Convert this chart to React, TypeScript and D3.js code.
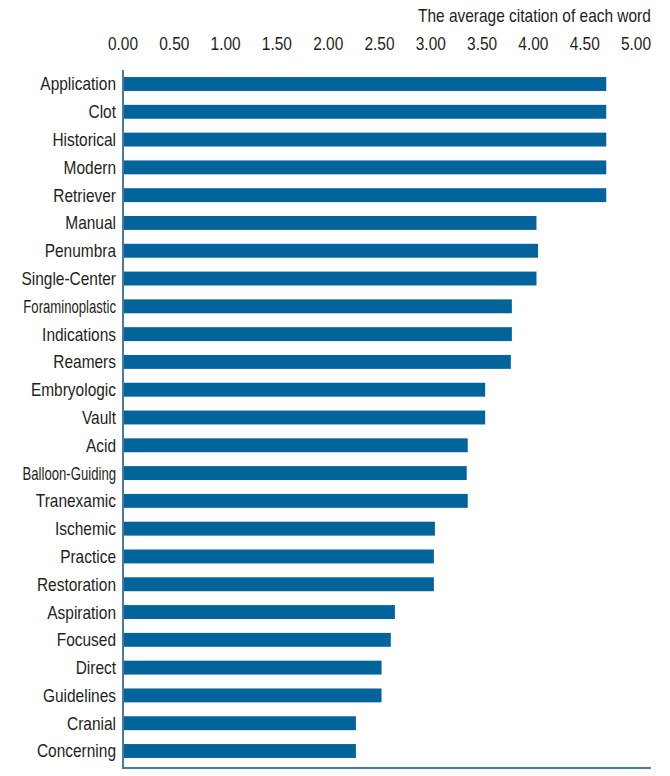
import React from "react";
import * as d3 from "d3";

const categories = [
  "Application", "Clot", "Historical", "Modern", "Retriever",
  "Manual", "Penumbra", "Single-Center", "Foraminoplastic", "Indications",
  "Reamers", "Embryologic", "Vault", "Acid", "Balloon-Guiding",
  "Tranexamic", "Ischemic", "Practice", "Restoration", "Aspiration",
  "Focused", "Direct", "Guidelines", "Cranial", "Concerning",
];
const values = [
  4.71, 4.71, 4.71, 4.71, 4.71,
  4.03, 4.045, 4.03, 3.79, 3.79,
  3.78, 3.53, 3.53, 3.36, 3.35,
  3.36, 3.04, 3.03, 3.03, 2.65,
  2.61, 2.52, 2.52, 2.27, 2.27,
];
const tickValues = [0, 0.5, 1, 1.5, 2, 2.5, 3, 3.5, 4, 4.5, 5];
const axisTitle = "The average citation of each word";

const W = 670;
const H = 776;
const FONT = "'Liberation Sans', Arial, sans-serif";
const SQUEEZE = 0.86;
const BAR = "#03639b";
const AXIS = "#4a7aa0";
const TEXT = "#231f20";

function NarrowText(props: {
  x: number;
  y: number;
  anchor: "start" | "middle" | "end";
  size: number;
  squeeze?: number;
  children: React.ReactNode;
  dy?: string;
}) {
  return (
    <text
      transform={`translate(${props.x},${props.y}) scale(${props.squeeze ?? SQUEEZE},1)`}
      textAnchor={props.anchor}
      fontSize={props.size}
      dy={props.dy}
      fill={TEXT}
    >
      {props.children}
    </text>
  );
}

export default function App() {
  const x = d3.scaleLinear().domain([0, 5]).range([123, 636]);
  const y = d3
    .scaleBand<string>()
    .domain(categories)
    .range([70.1, 764.9])
    .paddingInner(0.5)
    .paddingOuter(0.25);
  const axisY = 768;
  const axisX = x(0);
  const axisEnd = x(5.145);

  return (
    <svg
      width={W}
      height={H}
      style={{ position: "absolute", left: 0, top: 0, background: "#fff" }}
      fontFamily={FONT}
    >
      <NarrowText x={axisEnd} y={22} anchor="end" size={18}>
        {axisTitle}
      </NarrowText>
      {tickValues.map((t) => (
        <NarrowText key={t} x={x(t)} y={50} anchor="middle" size={18}>
          {d3.format(".2f")(t)}
        </NarrowText>
      ))}
      {categories.map((c, i) => (
        <rect
          key={c}
          x={x(0)}
          y={y(c)}
          width={x(values[i]) - x(0)}
          height={y.bandwidth()}
          fill={BAR}
        />
      ))}
      {categories.map((c) => (
        <NarrowText
          key={c}
          x={116}
          y={(y(c) as number) + y.bandwidth() / 2}
          dy="0.36em"
          anchor="end"
          size={18}
          squeeze={c.length > 13 ? 0.73 : SQUEEZE}
        >
          {c}
        </NarrowText>
      ))}
      <line x1={axisX} x2={axisX} y1={70} y2={axisY + 1} stroke={AXIS} strokeWidth={2} />
      <line x1={axisX - 1} x2={axisEnd} y1={axisY} y2={axisY} stroke={AXIS} strokeWidth={2} />
    </svg>
  );
}
